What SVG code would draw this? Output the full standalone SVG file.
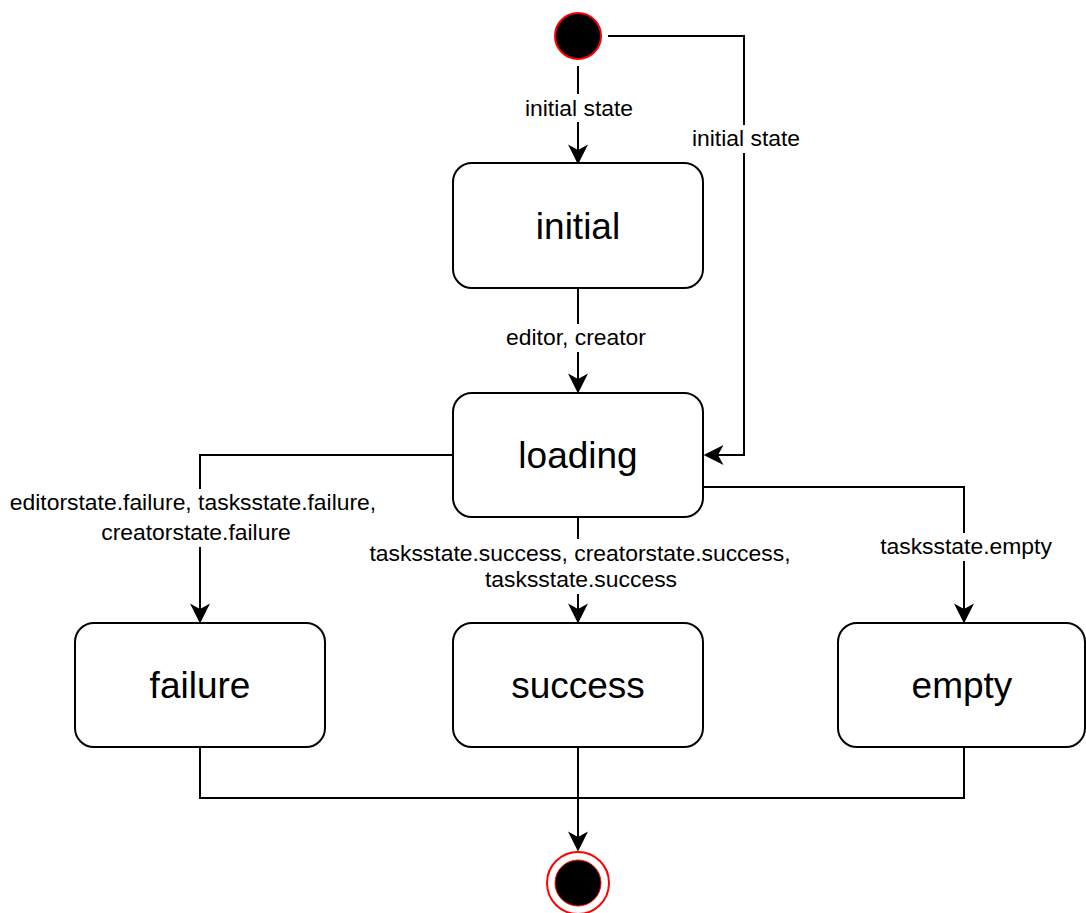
<svg xmlns="http://www.w3.org/2000/svg" width="1086" height="913" viewBox="0 0 1086 913">
<style>
.box{fill:#fff;stroke:#000;stroke-width:2}
.nt{font-family:"Liberation Sans",Arial,sans-serif;font-size:37px;text-anchor:middle;fill:#000}
.lt{font-family:"Liberation Sans",Arial,sans-serif;font-size:22.9px;text-anchor:middle;fill:#000}
.edge{fill:none;stroke:#000;stroke-width:2}
.lbg{fill:#fff}
</style>
<defs>
<marker id="arr" markerUnits="userSpaceOnUse" markerWidth="20" markerHeight="20" viewBox="0 0 18 18" refX="5" refY="9" orient="auto" overflow="visible">
<path d="M0,0 L18,9 L0,18 L5,9 Z" fill="#000"/>
</marker>
</defs>
<rect width="1086" height="913" fill="#fff"/>
<g id="connectors">
<path class="edge" d="M578,66 V150" marker-end="url(#arr)"/>
<path class="edge" d="M608,36 H744 V455 H718" marker-end="url(#arr)"/>
<path class="edge" d="M578,288 V379" marker-end="url(#arr)"/>
<path class="edge" d="M453,455 H200 V609" marker-end="url(#arr)"/>
<path class="edge" d="M578,517 V609" marker-end="url(#arr)"/>
<path class="edge" d="M703,487 H964 V609" marker-end="url(#arr)"/>
<path class="edge" d="M200,747 V798 H964 V747"/>
<path class="edge" d="M578,747 V837" marker-end="url(#arr)"/>
<rect class="lbg" x="522" y="94" width="116" height="28"/>
<text class="lt" x="579" y="116">initial state</text>
<rect class="lbg" x="688" y="125" width="116" height="28"/>
<text class="lt" x="746" y="146">initial state</text>
<rect class="lbg" x="500" y="324" width="152" height="28"/>
<text class="lt" x="576" y="345">editor, creator</text>
<rect class="lbg" x="6" y="489" width="376" height="58"/>
<text class="lt" x="193" y="510">editorstate.failure, tasksstate.failure,</text>
<text class="lt" x="196" y="540">creatorstate.failure</text>
<rect class="lbg" x="364" y="539" width="432" height="55"/>
<text class="lt" x="580" y="561">tasksstate.success, creatorstate.success,</text>
<text class="lt" x="581" y="587">tasksstate.success</text>
<rect class="lbg" x="878" y="533" width="176" height="28"/>
<text class="lt" x="966" y="554">tasksstate.empty</text>
</g>
<g id="start">
<circle cx="578" cy="36" r="23" fill="#000" stroke="#ff0000" stroke-width="2"/>
</g>
<g id="initial">
<rect class="box" x="453" y="163" width="250" height="125" rx="19"/>
<text class="nt" x="578" y="239">initial</text>
</g>
<g id="loading">
<rect class="box" x="453" y="393" width="250" height="124" rx="19"/>
<text class="nt" x="578" y="468">loading</text>
</g>
<g id="failure">
<rect class="box" x="75" y="623" width="250" height="124" rx="19"/>
<text class="nt" x="200" y="698">failure</text>
</g>
<g id="success">
<rect class="box" x="453" y="623" width="250" height="124" rx="19"/>
<text class="nt" x="578" y="698">success</text>
</g>
<g id="empty">
<rect class="box" x="838" y="623" width="247" height="124" rx="19"/>
<text class="nt" x="962" y="698">empty</text>
</g>
<g id="end">
<circle cx="578" cy="883" r="31" fill="#fff" stroke="#ff0000" stroke-width="2"/>
<circle cx="578" cy="883" r="23" fill="#000" stroke="#ff0000" stroke-width="1"/>
</g>
</svg>
